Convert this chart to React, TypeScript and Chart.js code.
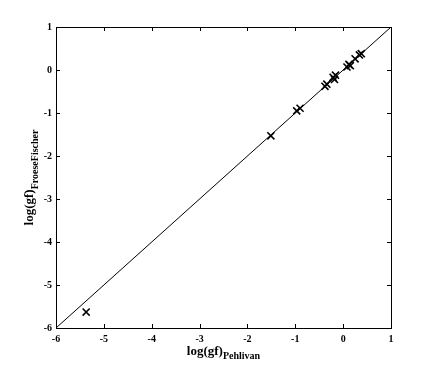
import React, { useEffect, useRef } from "react";
import { Chart, registerables } from "chart.js";

Chart.register(...registerables);

const pehlivan: number[] = [-5.37, -1.51, -0.97, -0.9, -0.38, -0.34, -0.21, -0.16, -0.18, 0.08, 0.12, 0.15, 0.25, 0.34, 0.38];
const froeseFischer: number[] = [-5.63, -1.53, -0.95, -0.89, -0.38, -0.33, -0.17, -0.12, -0.22, 0.07, 0.13, 0.1, 0.26, 0.35, 0.38];
const lineX: number[] = [-6, 1];
const lineY: number[] = [-6, 1];
const tickValues: number[] = [-6, -5, -4, -3, -2, -1, 0, 1];
const xTitleMain = "log(gf)";
const xTitleSub = "Pehlivan";
const yTitleMain = "log(gf)";
const yTitleSub = "FroeseFischer";

const FONT = '"Liberation Serif", "Times New Roman", serif';

const framePlugin = {
  id: "frame",
  afterDraw(chart: any) {
    const { ctx, chartArea } = chart;
    const { left, right, top, bottom } = chartArea;
    const xs = chart.scales.x;
    const ys = chart.scales.y;
    ctx.save();
    ctx.strokeStyle = "#000";
    ctx.lineWidth = 1;
    ctx.strokeRect(Math.round(left) + 0.5, Math.round(top) + 0.5, Math.round(right - left), Math.round(bottom - top));
    const tl = 4;
    ctx.beginPath();
    for (const v of tickValues) {
      const px = Math.round(xs.getPixelForValue(v)) + 0.5;
      ctx.moveTo(px, bottom);
      ctx.lineTo(px, bottom - tl);
      ctx.moveTo(px, top);
      ctx.lineTo(px, top + tl);
      const py = Math.round(ys.getPixelForValue(v)) + 0.5;
      ctx.moveTo(left, py);
      ctx.lineTo(left + tl, py);
      ctx.moveTo(right, py);
      ctx.lineTo(right - tl, py);
    }
    ctx.stroke();

    // x title with subscript
    ctx.fillStyle = "#000";
    ctx.textBaseline = "alphabetic";
    ctx.textAlign = "left";
    const mainFont = `bold 13px ${FONT}`;
    const subFont = `bold 10px ${FONT}`;
    ctx.font = mainFont;
    const wm = ctx.measureText(xTitleMain).width;
    ctx.font = subFont;
    const ws = ctx.measureText(xTitleSub).width;
    const cx = (left + right) / 2;
    let x0 = cx - (wm + ws) / 2;
    ctx.font = mainFont;
    ctx.fillText(xTitleMain, x0, 355);
    ctx.font = subFont;
    ctx.fillText(xTitleSub, x0 + wm, 359);

    // y title rotated
    ctx.font = mainFont;
    const wm2 = ctx.measureText(yTitleMain).width;
    ctx.font = subFont;
    const ws2 = ctx.measureText(yTitleSub).width;
    const cy = (top + bottom) / 2;
    ctx.translate(33, cy);
    ctx.rotate(-Math.PI / 2);
    const s0 = -(wm2 + ws2) / 2;
    ctx.font = mainFont;
    ctx.fillText(yTitleMain, s0, 0);
    ctx.font = subFont;
    ctx.fillText(yTitleSub, s0 + wm2, 5);
    ctx.restore();
  },
};

export default function App() {
  const ref = useRef<HTMLCanvasElement | null>(null);
  useEffect(() => {
    document.body.style.margin = "0";
    const canvas = ref.current!;
    const points = pehlivan.map((x, i) => ({ x, y: froeseFischer[i] }));
    const line = lineX.map((x, i) => ({ x, y: lineY[i] }));
    const tickFont = { family: FONT, size: 10, weight: "bold" as const };
    const chart = new Chart(canvas, {
      type: "scatter",
      data: {
        datasets: [
          {
            type: "line",
            data: line,
            borderColor: "#000",
            borderWidth: 1,
            pointRadius: 0,
            fill: false,
          } as any,
          {
            data: points,
            pointStyle: "crossRot",
            pointRadius: 5,
            borderColor: "#000",
            backgroundColor: "#000",
            pointBorderWidth: 1.6,
          } as any,
        ],
      },
      options: {
        animation: false,
        responsive: false,
        devicePixelRatio: 1,
        layout: { padding: { left: 0, top: 27, right: 41, bottom: 0 } },
        plugins: { legend: { display: false }, tooltip: { enabled: false } },
        scales: {
          x: {
            type: "linear",
            min: -6,
            max: 1,
            grid: { display: false, drawTicks: false },
            border: { display: false },
            afterBuildTicks: (s: any) => {
              s.ticks = tickValues.map((v) => ({ value: v }));
            },
            afterFit: (s: any) => {
              s.height = 41;
            },
            ticks: { color: "#000", font: tickFont, padding: 5, maxRotation: 0, autoSkip: false },
          },
          y: {
            type: "linear",
            min: -6,
            max: 1,
            grid: { display: false, drawTicks: false },
            border: { display: false },
            afterBuildTicks: (s: any) => {
              s.ticks = tickValues.map((v) => ({ value: v }));
            },
            afterFit: (s: any) => {
              s.width = 56;
            },
            ticks: { color: "#000", font: tickFont, padding: 4, autoSkip: false },
          },
        },
      },
      plugins: [framePlugin],
    });
    return () => chart.destroy();
  }, []);
  return <canvas ref={ref} width={432} height={369} style={{ display: "block" }} />;
}
